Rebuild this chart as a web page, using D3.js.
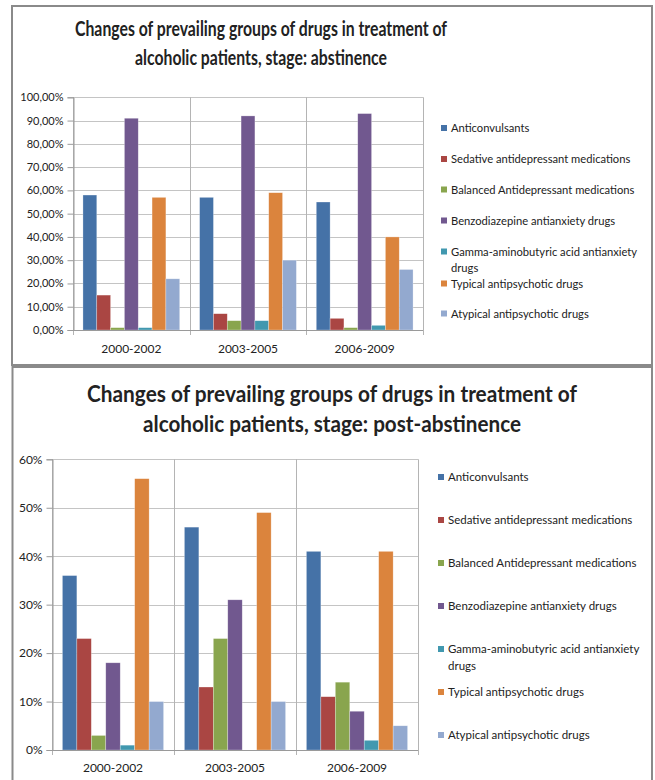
<!DOCTYPE html>
<html>
<head>
<meta charset="utf-8">
<script src="https://cdn.jsdelivr.net/npm/d3@7"></script>
<style>
  body { margin: 0; background: #fff; }
  text { font-family: Lato, "Open Sans", sans-serif; fill: #222; }
</style>
</head>
<body>
<div id="chart"></div>
<script>
// categories, series and values
var periods = ["2000-2002", "2003-2005", "2006-2009"];
var drugGroups = [
  "Anticonvulsants",
  "Sedative antidepressant medications",
  "Balanced Antidepressant medications",
  "Benzodiazepine antianxiety drugs",
  "Gamma-aminobutyric acid antianxiety drugs",
  "Typical antipsychotic drugs",
  "Atypical antipsychotic drugs"
];
// values in percent, one row per drug group, one column per period
var abstinence = [
  [58, 57, 55],
  [15, 7, 5],
  [1, 4, 1],
  [91, 92, 93],
  [1, 4, 2],
  [57, 59, 40],
  [22, 30, 26]
];
var postAbstinence = [
  [36, 46, 41],
  [23, 13, 11],
  [3, 23, 14],
  [18, 31, 8],
  [1, 0, 2],
  [56, 49, 41],
  [10, 10, 5]
];
var abstinenceTicks = [0, 10, 20, 30, 40, 50, 60, 70, 80, 90, 100];
var postTicks = [0, 10, 20, 30, 40, 50, 60];
var colors = ["#4572A7", "#AA4643", "#89A54E", "#71588F", "#4198AF", "#DB843D", "#93A9CF"];

var W = 655, H = 780;
var svg = d3.select("#chart").append("svg")
  .attr("width", W)
  .attr("height", H);

var comma = d3.formatLocale({decimal: ",", thousands: ".", grouping: [3], currency: ["", ""]});
var fmt2 = comma.format(".2f");

// panel settings (layout only)
var panels = [
  {
    box: [12, 6, 640, 359],
    title: ["Changes of prevailing groups of drugs in treatment of", "alcoholic patients, stage: abstinence"],
    titleY: [36, 65], titleSize: 20, titleW: [372, 252], titleX: 261,
    data: abstinence, ticks: abstinenceTicks, max: 100,
    tickFmt: function(d) { return fmt2(d) + "%"; },
    x0: 73, x1: 423, yTop: 97.3, yBot: 330, tickSize: 11, catY: 353,
    legX: 441, legRows: [128, 159, 189.5, 220.5, 251.5, 283.5, 313.5], legSize: 11.2
  },
  {
    box: [12.5, 367, 639.5, 430],
    title: ["Changes of prevailing groups of drugs in treatment of", "alcoholic patients, stage: post-abstinence"],
    titleY: [402, 432], titleSize: 23, titleW: [490, 378], titleX: 332,
    data: postAbstinence, ticks: postTicks, max: 60,
    tickFmt: function(d) { return d + "%"; },
    x0: 52, x1: 418, yTop: 459.3, yBot: 750, tickSize: 12, catY: 772,
    legX: 438, legRows: [477, 520, 563, 606, 649, 692, 735], legSize: 11.5
  }
];

panels.forEach(function(p) {
  var g = svg.append("g");

  g.append("rect")
    .attr("x", p.box[0]).attr("y", p.box[1])
    .attr("width", p.box[2]).attr("height", p.box[3])
    .attr("fill", "#fff")
    .attr("stroke", "#8a8a8a")
    .attr("stroke-width", 2);

  // title
  p.title.forEach(function(t, i) {
    g.append("text")
      .attr("x", p.titleX)
      .attr("y", p.titleY[i])
      .attr("text-anchor", "middle")
      .attr("font-size", p.titleSize)
      .attr("font-weight", "bold")
      .attr("textLength", p.titleW[i])
      .attr("lengthAdjust", "spacingAndGlyphs")
      .text(t);
  });

  var x = d3.scaleBand().domain(periods).range([p.x0, p.x1]).paddingInner(0).paddingOuter(0);
  var xs = d3.scaleBand().domain(d3.range(drugGroups.length))
    .range([0, x.bandwidth()]).paddingInner(0).paddingOuter(0.72);
  var y = d3.scaleLinear().domain([0, p.max]).range([p.yBot, p.yTop]);

  // horizontal gridlines
  g.selectAll(".hgrid").data(p.ticks).enter().append("line")
    .attr("x1", p.x0).attr("x2", p.x1)
    .attr("y1", function(d) { return Math.round(y(d)) + 0.5; })
    .attr("y2", function(d) { return Math.round(y(d)) + 0.5; })
    .attr("stroke", "#c4c4c4")
    .attr("stroke-width", 1);

  // vertical category lines
  var bounds = periods.map(function(c) { return x(c); }).concat([p.x1]);
  g.selectAll(".vgrid").data(bounds).enter().append("line")
    .attr("x1", function(d) { return Math.round(d) + 0.5; })
    .attr("x2", function(d) { return Math.round(d) + 0.5; })
    .attr("y1", p.yTop)
    .attr("y2", p.yBot + 5)
    .attr("stroke", "#b4b4b4")
    .attr("stroke-width", 1);

  // bars
  var rows = [];
  p.data.forEach(function(vals, s) {
    vals.forEach(function(v, c) { rows.push({s: s, c: periods[c], v: v}); });
  });
  g.selectAll(".bar").data(rows).enter().append("rect")
    .attr("x", function(d) { return x(d.c) + xs(d.s); })
    .attr("y", function(d) { return y(d.v); })
    .attr("width", xs.bandwidth())
    .attr("height", function(d) { return y(0) - y(d.v); })
    .attr("fill", function(d) { return colors[d.s]; })
    .attr("stroke", "rgba(255,255,255,0.45)")
    .attr("stroke-width", 0.6);

  // y axis
  var yAxis = d3.axisLeft(y).tickValues(p.ticks).tickFormat(p.tickFmt).tickSize(6).tickPadding(4);
  var ya = g.append("g")
    .attr("transform", "translate(" + (Math.round(p.x0) + 0.5) + ",0)")
    .call(yAxis);
  ya.select(".domain").attr("stroke", "#9a9a9a");
  ya.selectAll(".tick line").attr("stroke", "#9a9a9a");
  ya.selectAll(".tick text")
    .attr("font-size", p.tickSize)
    .attr("font-family", "Lato, sans-serif")
    .attr("fill", "#333");

  // x axis baseline
  g.append("line")
    .attr("x1", p.x0).attr("x2", p.x1)
    .attr("y1", Math.round(y(0)) + 0.5).attr("y2", Math.round(y(0)) + 0.5)
    .attr("stroke", "#9a9a9a");

  // category labels
  g.selectAll(".cat").data(periods).enter().append("text")
    .attr("x", function(d) { return x(d) + x.bandwidth() / 2; })
    .attr("y", p.catY)
    .attr("text-anchor", "middle")
    .attr("font-size", 12)
    .attr("fill", "#333")
    .text(function(d) { return d; });

  // legend
  var leg = g.selectAll(".leg").data(drugGroups).enter().append("g")
    .attr("transform", function(d, i) { return "translate(" + p.legX + "," + p.legRows[i] + ")"; });
  leg.append("rect")
    .attr("x", 0).attr("y", -3)
    .attr("width", 6).attr("height", 6)
    .attr("fill", function(d, i) { return colors[i]; });
  leg.each(function(d, i) {
    var t = d3.select(this).append("text")
      .attr("x", 10)
      .attr("y", 4)
      .attr("font-size", p.legSize)
      .attr("fill", "#333");
    if (i === 4) {
      t.append("tspan").attr("x", 10).attr("dy", 0).text("Gamma-aminobutyric acid antianxiety");
      t.append("tspan").attr("x", 10).attr("dy", p.legSize * 1.45).text("drugs");
    } else {
      t.text(d);
    }
  });
});
</script>
</body>
</html>
